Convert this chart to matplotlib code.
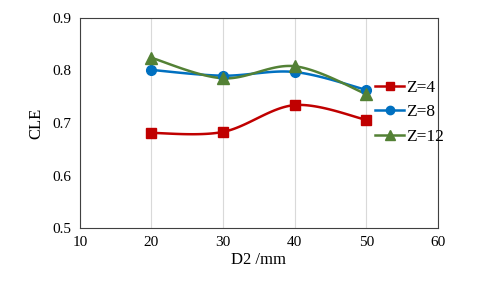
import numpy as np
import matplotlib
matplotlib.use("Agg")
import matplotlib.pyplot as plt

plt.rcParams['font.family'] = ['Liberation Serif', 'DejaVu Serif']

# ---------------- Data ----------------
d2 = [20, 30, 40, 50]
z4 = [0.681, 0.683, 0.734, 0.706]
z8 = [0.801, 0.790, 0.797, 0.763]
z12 = [0.824, 0.785, 0.808, 0.755]
labels = ['Z=4', 'Z=8', 'Z=12']


def smooth(x, y, n=40):
    # Excel-like smoothed line (Catmull-Rom style bezier)
    x = np.asarray(x, float)
    y = np.asarray(y, float)
    px = np.concatenate([[x[0]], x, [x[-1]]])
    py = np.concatenate([[y[0]], y, [y[-1]]])
    xs, ys = [], []
    t = np.linspace(0, 1, n)
    for i in range(1, len(px) - 2):
        p0 = np.array([px[i], py[i]])
        p3 = np.array([px[i + 1], py[i + 1]])
        c1 = p0 + (np.array([px[i + 1], py[i + 1]]) - np.array([px[i - 1], py[i - 1]])) / 6
        c2 = p3 - (np.array([px[i + 2], py[i + 2]]) - np.array([px[i], py[i]])) / 6
        b = ((1 - t) ** 3)[:, None] * p0 + (3 * (1 - t) ** 2 * t)[:, None] * c1 \
            + (3 * (1 - t) * t ** 2)[:, None] * c2 + (t ** 3)[:, None] * p3
        xs.extend(b[:, 0])
        ys.extend(b[:, 1])
    return xs, ys


fig = plt.figure(figsize=(4.87, 2.84), dpi=100)
ax = fig.add_axes([0.164, 0.197, 0.735, 0.740])

series = [(z4, '#C00000', 's', 7), (z8, '#0070C0', 'o', 7), (z12, '#538135', '^', 8)]
handles = []
for vals, col, mk, ms in series:
    sx, sy = smooth(d2, vals)
    ax.plot(sx, sy, color=col, lw=1.8, zorder=2)
    ax.plot(d2, vals, ls='none', marker=mk, ms=ms, color=col, zorder=3)
    h, = ax.plot([], [], color=col, lw=1.8, marker=mk, ms=ms - 1)
    handles.append(h)

ax.set_xlim(10, 60)
ax.set_ylim(0.5, 0.9)
ax.set_xticks([10, 20, 30, 40, 50, 60])
ax.set_yticks([0.5, 0.6, 0.7, 0.8, 0.9])
ax.set_yticklabels(['0.5', '0.6', '0.7', '0.8', '0.9'])
ax.tick_params(length=0, labelsize=11, pad=6)
ax.xaxis.grid(True, color='#D9D9D9', lw=0.8)
ax.set_axisbelow(True)
for s in ax.spines.values():
    s.set_color('#404040')
    s.set_linewidth(0.8)

ax.set_xlabel('D2 /mm', fontsize=12, labelpad=2)
ax.set_ylabel('CLE', fontsize=12, labelpad=6)

ax.legend(handles, labels, loc='upper left', bbox_to_anchor=(0.805, 0.74),
          frameon=False, fontsize=12.5, handlelength=1.7, handletextpad=0.1,
          labelspacing=0.5, borderaxespad=0)

fig.savefig('out.png', dpi=100)
